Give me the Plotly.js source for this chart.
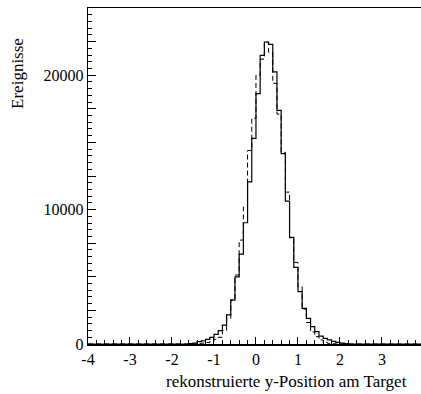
<!DOCTYPE html>
<html>
<head>
<meta charset="utf-8">
<script src="https://cdn.plot.ly/plotly-3.0.1.min.js"></script>
<style>
html,body{margin:0;padding:0;overflow:hidden;background:#fff;}
#chart{width:421px;height:394px;}
</style>
</head>
<body>
<div id="chart"></div>
<script>
// Bin edges (x, reconstructed y-position), 0.1 wide
const binEdges = [-1.6,-1.5,-1.4,-1.3,-1.2,-1.1,-1.0,-0.9,-0.8,-0.7,-0.6,-0.5,-0.4,-0.3,-0.2,-0.1,0.0,
  0.1,0.2,0.3,0.4,0.5,0.6,0.7,0.8,0.9,1.0,1.1,1.2,1.3,1.4,1.5,1.6,1.7,1.8,1.9,2.0,2.1,2.2];
// Solid histogram (counts per bin)
const solidCounts = [30,60,170,230,350,500,720,1000,1410,2160,3270,5000,6690,9020,12060,15300,
  18630,21480,22470,22300,20240,17390,14170,10630,7930,5700,3890,2650,1910,1290,920,590,420,300,200,120,60,30];
// Dashed histogram (counts per bin)
const dashedCounts = [0,10,30,60,110,200,350,500,1000,1900,3300,5130,7730,10200,14400,16800,
  20000,21200,22450,21700,19400,17100,14260,11300,7900,6070,4260,2600,1600,900,550,300,120,50,20,0,0,0];
// Visible x window (the frame is cut at the right edge of the image, just before x = 4)
const xRange = [-4, 3.93];
const histEnds = [-4, 4];
const yRange = [0, 25000];
const yTickVals = [0,2500,5000,7500,10000,12500,15000,17500,20000,22500,25000];
const yTickText = ['0','','','','10000','','','','20000','',''];
const xTickVals = [-4,-3,-2,-1,0,1,2,3];
const xTickText = ['-4','-3','-2','-1','0','1','2','3'];

function stepTrace(counts, dash, width) {
  const x = [histEnds[0]].concat(binEdges, [histEnds[1]]);
  const y = [0].concat(counts, [0, 0]);
  return {
    x: x, y: y, type: 'scatter', mode: 'lines',
    line: {shape: 'hv', color: '#000', width: width, dash: dash},
    hoverinfo: 'skip', showlegend: false
  };
}

const fam = '"Liberation Serif", "Times New Roman", serif';
const tickFont = {family: fam, size: 16, color: '#000'};
const titleFont = {family: fam, size: 17, color: '#000'};

const data = [stepTrace(dashedCounts, '5px,3px', 1), stepTrace(solidCounts, 'solid', 1.2)];

const layout = {
  width: 421, height: 394,
  margin: {l: 88, r: 0, t: 8, b: 50},
  paper_bgcolor: '#fff', plot_bgcolor: '#fff',
  font: tickFont,
  showlegend: false,
  xaxis: {
    range: xRange, showgrid: false, zeroline: false,
    showline: true, linecolor: '#000', linewidth: 1.5, mirror: true,
    ticks: 'inside', ticklen: 7, tickcolor: '#000', tickwidth: 1,
    tickvals: xTickVals, ticktext: xTickText, tickfont: tickFont,
    minor: {dtick: 0.2, ticks: 'inside', ticklen: 4, tickcolor: '#000', tickwidth: 1, showgrid: false},
    fixedrange: true
  },
  yaxis: {
    range: yRange, showgrid: false, zeroline: false,
    showline: true, linecolor: '#000', linewidth: 1.2, mirror: false,
    ticks: 'inside', ticklen: 8, tickcolor: '#000', tickwidth: 1,
    tickvals: yTickVals, ticktext: yTickText, tickfont: tickFont,
    minor: {dtick: 500, ticks: 'inside', ticklen: 4, tickcolor: '#000', tickwidth: 1, showgrid: false},
    fixedrange: true
  },
  annotations: [
    {text: 'Ereignisse', xref: 'paper', yref: 'paper', x: -0.21, y: 0.804,
     xanchor: 'center', yanchor: 'middle', textangle: -90, showarrow: false, font: titleFont},
    {text: 'rekonstruierte y-Position am Target', xref: 'paper', yref: 'paper', x: 0.595, y: -0.113,
     xanchor: 'center', yanchor: 'middle', showarrow: false, font: titleFont}
  ]
};

Plotly.newPlot('chart', data, layout, {staticPlot: true, displayModeBar: false});
</script>
</body>
</html>
